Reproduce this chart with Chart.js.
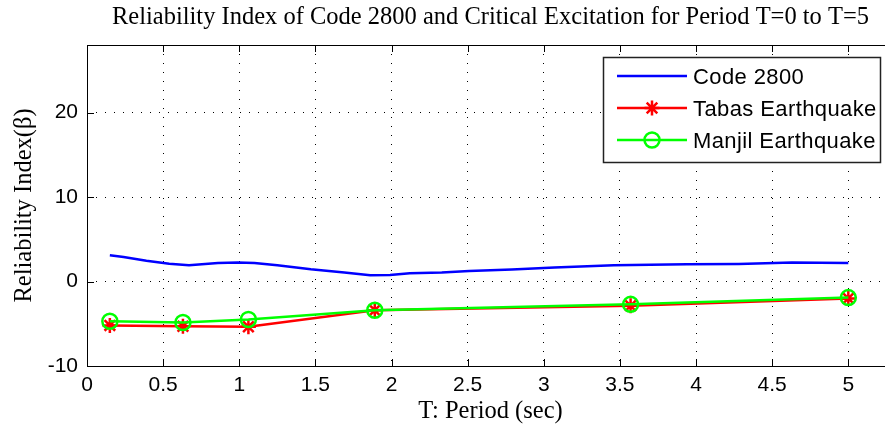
<!DOCTYPE html>
<html>
<head>
<meta charset="utf-8">
<script src="https://cdn.jsdelivr.net/npm/chart.js@4.4.1/dist/chart.umd.min.js"></script>
<style>
html,body{margin:0;padding:0;background:#fff;overflow:hidden;}
canvas{display:block;}
</style>
</head>
<body>
<canvas id="myChart" width="904" height="434"></canvas>
<script>
// data
const codePeriods = [0.15, 0.24, 0.39, 0.54, 0.67, 0.86, 0.99, 1.10, 1.25, 1.47, 1.69, 1.86, 1.99, 2.12, 2.33, 2.51, 2.79, 3.07, 3.46, 3.94, 4.28, 4.63, 5.0];
const codeValues = [3.1, 2.9, 2.45, 2.1, 1.93, 2.2, 2.24, 2.2, 1.93, 1.45, 1.06, 0.74, 0.78, 0.98, 1.06, 1.25, 1.42, 1.65, 1.93, 2.04, 2.08, 2.24, 2.2];
const quakePeriods = [0.15, 0.63, 1.06, 1.89, 3.57, 5.0];
const tabasValues = [-5.2, -5.3, -5.35, -3.4, -2.87, -2.0];
const manjilValues = [-4.7, -4.85, -4.5, -3.4, -2.7, -1.9];
const xTicks = [0, 0.5, 1, 1.5, 2, 2.5, 3, 3.5, 4, 4.5, 5];
const yTicks = [-10, 0, 10, 20];

const titleText = 'Reliability Index of Code 2800 and Critical Excitation for Period T=0 to T=5';
const sansFont = '"Liberation Sans", Arial, sans-serif';
const serifFont = '"Liberation Serif", "Times New Roman", serif';

const toXY = (xs, ys) => xs.map((x, i) => ({x: x, y: ys[i]}));

const ctx = document.getElementById('myChart');

const data = {
  datasets: [{
    label: 'Code 2800',
    data: toXY(codePeriods, codeValues),
    borderColor: '#0000ff',
    borderWidth: 2.5,
    pointRadius: 0,
    order: 2
  }, {
    label: 'Tabas Earthquake',
    data: toXY(quakePeriods, tabasValues),
    borderColor: '#ff0000',
    borderWidth: 2.5,
    pointStyle: 'star',
    pointRadius: 7.5,
    pointBorderWidth: 2.5,
    pointBorderColor: '#ff0000',
    pointBackgroundColor: '#ff0000',
    order: 1
  }, {
    label: 'Manjil Earthquake',
    data: toXY(quakePeriods, manjilValues),
    borderColor: '#00ff00',
    borderWidth: 2.5,
    pointStyle: 'circle',
    pointRadius: 7.5,
    pointBorderWidth: 2.5,
    pointBorderColor: '#00ff00',
    pointBackgroundColor: 'rgba(0,0,0,0)',
    order: 0
  }]
};

// matlab style box, inward ticks, title and legend
const matlabPlugin = {
  id: 'matlab',
  afterDraw(chart) {
    const c = chart.ctx;
    const a = chart.chartArea;
    c.save();
    c.strokeStyle = '#000';
    c.lineWidth = 1;
    c.strokeRect(Math.round(a.left) + 0.5, Math.round(a.top) + 0.5, Math.round(a.right - a.left), Math.round(a.bottom - a.top));
    c.beginPath();
    chart.scales.x.ticks.forEach(t => {
      const px = Math.round(chart.scales.x.getPixelForValue(t.value)) + 0.5;
      c.moveTo(px, a.bottom); c.lineTo(px, a.bottom - 7);
      c.moveTo(px, a.top); c.lineTo(px, a.top + 7);
    });
    chart.scales.y.ticks.forEach(t => {
      const py = Math.round(chart.scales.y.getPixelForValue(t.value)) + 0.5;
      c.moveTo(a.left, py); c.lineTo(a.left + 7, py);
      c.moveTo(a.right, py); c.lineTo(a.right - 7, py);
    });
    c.stroke();

    // title
    c.fillStyle = '#000';
    c.font = '24.5px ' + serifFont;
    c.textAlign = 'center';
    c.textBaseline = 'middle';
    c.fillText(titleText, (a.left + a.right) / 2, 18);

    // legend
    const lx0 = 603, lx1 = 880, ly0 = a.top + 12, ly1 = a.top + 117;
    c.fillStyle = '#fff';
    c.fillRect(lx0, ly0, lx1 - lx0, ly1 - ly0);
    c.strokeStyle = '#222';
    c.lineWidth = 1.5;
    c.strokeRect(lx0 + 0.5, ly0 + 0.5, lx1 - lx0, ly1 - ly0);
    c.font = '22px ' + sansFont;
    c.letterSpacing = '0.4px';
    c.textAlign = 'left';
    chart.data.datasets.forEach((ds, i) => {
      const y = ly0 + 19 + i * 32;
      c.strokeStyle = ds.borderColor;
      c.lineWidth = ds.borderWidth;
      c.beginPath();
      c.moveTo(617, y); c.lineTo(687, y);
      c.stroke();
      if (ds.pointRadius > 0) {
        c.strokeStyle = ds.pointBorderColor;
        c.fillStyle = ds.pointBackgroundColor;
        c.lineWidth = ds.pointBorderWidth;
        Chart.helpers.drawPoint(c, {pointStyle: ds.pointStyle, radius: ds.pointRadius, borderWidth: ds.pointBorderWidth, rotation: 0}, 652, y);
      }
      c.fillStyle = '#000';
      c.fillText(ds.label, 693, y + 2);
    });
    c.restore();
  }
};

const config = {
  type: 'line',
  data: data,
  options: {
    responsive: false,
    animation: false,
    layout: {padding: {top: 45, left: 0, right: 0, bottom: 0}},
    elements: {line: {tension: 0}},
    scales: {
      x: {
        type: 'linear',
        min: 0,
        max: 5.3,
        afterBuildTicks: s => { s.ticks = xTicks.map(v => ({value: v})); },
        afterFit: s => { s.height = 68; },
        ticks: {
          color: '#000',
          font: {family: sansFont, size: 21},
          padding: 7,
          autoSkip: false,
          maxRotation: 0,
          callback: v => String(v)
        },
        grid: {color: '#000', lineWidth: 1, drawTicks: false},
        border: {display: false, dash: [1, 8]},
        title: {
          display: true,
          text: 'T: Period (sec)',
          color: '#000',
          font: {family: serifFont, size: 24.5},
          padding: {top: 0, bottom: 8}
        }
      },
      y: {
        min: -10,
        max: 28,
        afterBuildTicks: s => { s.ticks = yTicks.map(v => ({value: v})); },
        afterFit: s => { s.width = 87; },
        ticks: {
          color: '#000',
          font: {family: sansFont, size: 21},
          padding: 9,
          callback: v => String(v)
        },
        grid: {color: '#000', lineWidth: 1, drawTicks: false},
        border: {display: false, dash: [1, 8]},
        title: {
          display: true,
          text: 'Reliability Index(β)',
          color: '#000',
          font: {family: serifFont, size: 24.5},
          padding: {top: 10, bottom: 0}
        }
      }
    },
    plugins: {
      legend: {display: false},
      title: {display: false},
      tooltip: {enabled: false}
    }
  },
  plugins: [matlabPlugin]
};

const myChart = new Chart(ctx, config);
</script>
</body>
</html>
